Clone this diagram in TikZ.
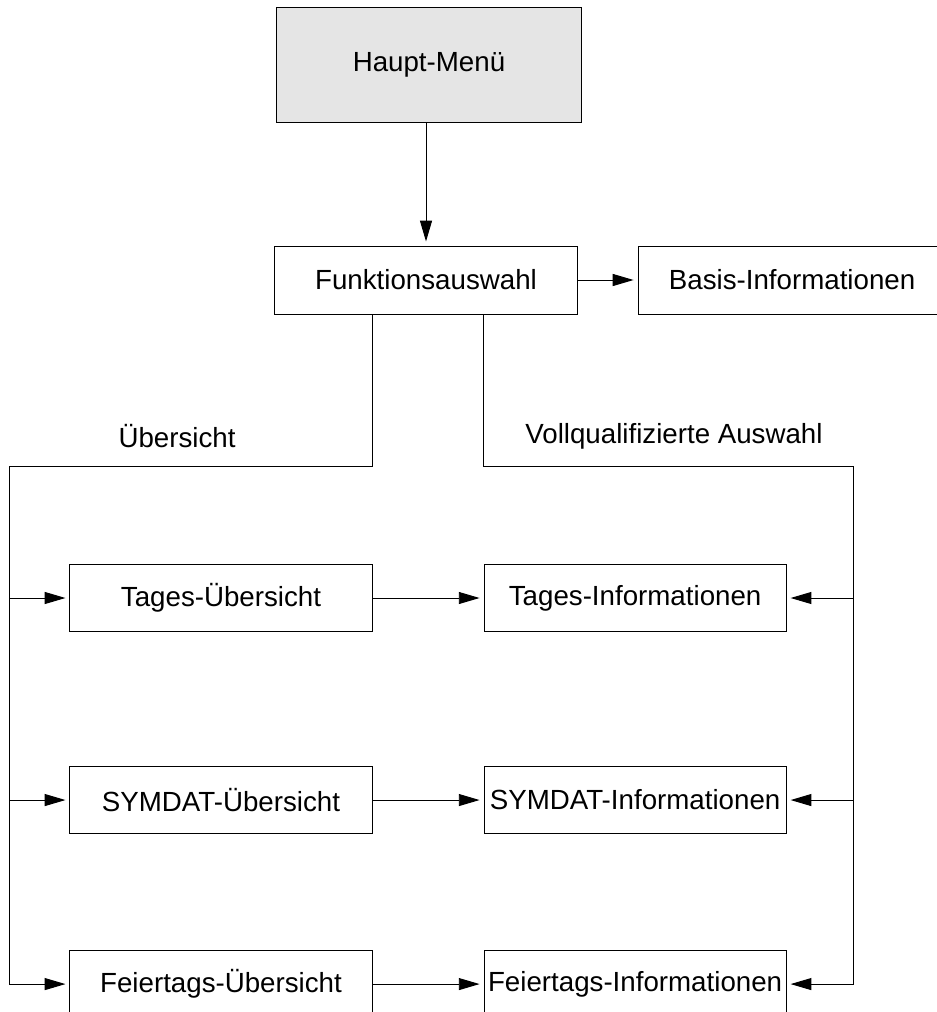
\documentclass[tikz,border=0pt]{standalone}
\usepackage{fontspec}
\setmainfont{Liberation Sans}
\usepackage{tikz}
\usetikzlibrary{arrows.meta, positioning}
\definecolor{menugrey}{RGB}{229, 229, 229}

\begin{document}
\begin{tikzpicture}[x=0.025cm, y=-0.025cm,
    box/.style={rectangle, draw=black, line width=0.7pt, minimum width=7.55cm, minimum height=1.7cm, inner sep=0pt, align=center, font=\fontsize{19.7}{24}\selectfont},
    mainbox/.style={box, fill=menugrey, minimum width=7.6cm, minimum height=2.85cm},
    lbl/.style={inner sep=0pt, font=\fontsize{19.7}{24}\selectfont},
    arrow/.style={-{Triangle[length=0.52cm, width=0.3cm]}, line width=0.7pt, shorten >=0.1cm}
]
\useasboundingbox (0,0) rectangle (936,1012);

\node (haupt) [mainbox] at (429,65) {Haupt-Menü};
\node (funk)  [box] at (426,280) {Funktionsauswahl};
\node (basis) [box, right=1.5cm of funk, minimum width=7.7cm] {Basis-Informationen};

\node (tueb) [box, minimum height=1.675cm] at (221,598) {Tages-Übersicht};
\node (tinf) [box, minimum height=1.675cm, right=2.775cm of tueb] {Tages-Informationen};
\node (sueb) [box, minimum height=1.675cm, below=3.35cm of tueb] {SYMDAT-Übersicht};
\node (sinf) [box, minimum height=1.675cm, right=2.775cm of sueb] {SYMDAT-Informationen};
\node (fueb) [box, minimum height=1.675cm, below=2.9cm of sueb] {Feiertags-Übersicht};
\node (finf) [box, minimum height=1.675cm, right=2.775cm of fueb] {Feiertags-Informationen};

\node (uebl) [lbl] at (177,436) {Übersicht};
\node (vqal) [lbl] at (674,436) {Vollqualifizierte Auswahl};

\coordinate (lsplit) at (9,466);
\coordinate (rsplit) at (853,466);

\draw [arrow] (haupt.south -| funk.north) -- (funk.north);
\draw [arrow] (funk) -- (basis);

% Übersicht branch
\draw [arrow] (funk.south -| tueb.east) |- (lsplit) |- (fueb.west);
\draw [arrow] (lsplit |- tueb.west) -- (tueb.west);
\draw [arrow] (lsplit |- sueb.west) -- (sueb.west);

% Vollqualifizierte Auswahl branch
\draw [arrow] (funk.south -| tinf.west) |- (rsplit) |- (finf.east);
\draw [arrow] (rsplit |- tinf.east) -- (tinf.east);
\draw [arrow] (rsplit |- sinf.east) -- (sinf.east);

\draw [arrow] (tueb) -- (tinf);
\draw [arrow] (sueb) -- (sinf);
\draw [arrow] (fueb) -- (finf);

\end{tikzpicture}
\end{document}
